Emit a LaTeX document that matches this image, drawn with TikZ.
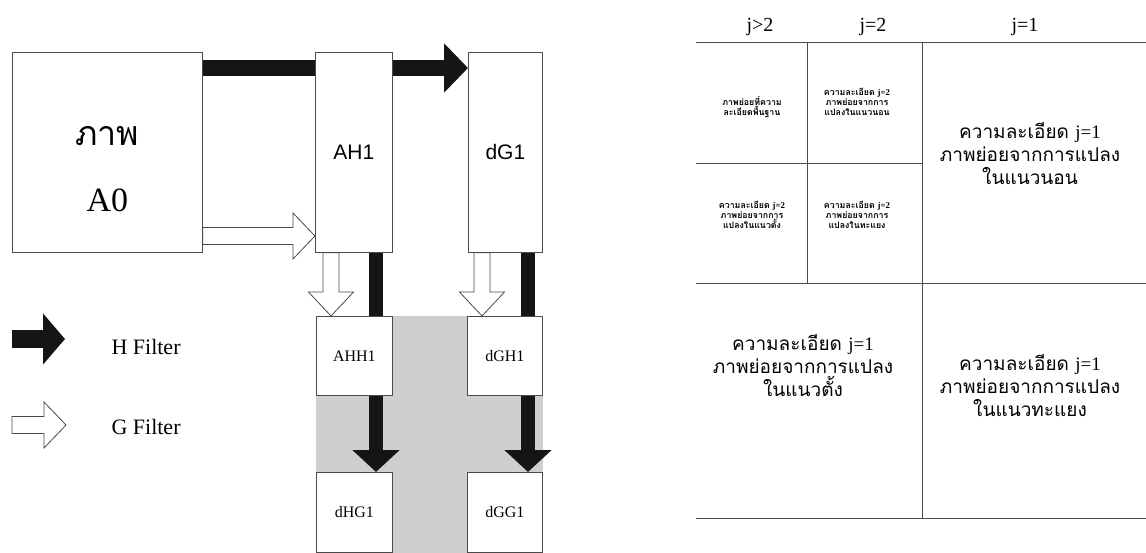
\documentclass[tikz,border=0pt]{standalone}
\usepackage{fontspec}
\setmainfont{Liberation Serif}
\newfontfamily\thai[Script=Thai]{Loma}
\newfontfamily\arial{Liberation Sans}
\usepackage{tikz}
\usetikzlibrary{arrows.meta,backgrounds,calc,positioning}
\definecolor{ink}{HTML}{151515}
\definecolor{edge}{HTML}{4A4A4A}
\tikzset{
  hflow/.style={line width=16pt,draw=ink,-{Triangle[length=24pt,width=48pt]}},
  vflow/.style={line width=14pt,draw=ink,-{Triangle[length=22pt,width=46pt]}},
  gflow/.style={draw=edge,fill=white,line width=.8pt},
  blk/.style={draw=edge,fill=white,line width=.8pt,inner sep=0pt,anchor=north west},
  tabline/.style={draw=edge,line width=.8pt},
  tile/.style={align=center,font=\thai\fontsize{19}{23}\selectfont},
  mini/.style={align=center,font=\thai\bfseries\fontsize{8.8}{10}\selectfont},
  head/.style={font=\fontsize{20}{22}\selectfont}
}
% open (G filter) block arrows
\newcommand{\gright}[2]{\draw[gflow] ($(#1)+(0,-8.5)$) -- ($(#2)+(-22,-8.5)$) -- ($(#2)+(-22,-23)$) -- (#2)
  -- ($(#2)+(-22,23)$) -- ($(#2)+(-22,8.5)$) -- ($(#1)+(0,8.5)$) -- cycle;}
\newcommand{\gdown}[2]{\draw[gflow] ($(#1)+(-8,0)$) -- ($(#2)+(-8,-24)$) -- ($(#2)+(-22.5,-24)$) -- (#2)
  -- ($(#2)+(22.5,-24)$) -- ($(#2)+(8,-24)$) -- ($(#1)+(8,0)$) -- cycle;}
\begin{document}
\begin{tikzpicture}[x=1pt,y=-1pt]
  \useasboundingbox (0,0) rectangle (1146,552);
  % filter boxes
  \node[blk,minimum width=190pt,minimum height=200pt] (a0) at (12,52) {};
  \node[font=\fontsize{34}{66}\selectfont,align=center] (a0txt) at ([yshift=-17pt]a0.center) {{\thai ภาพ}\\A0};
  \node[blk,minimum width=77pt,minimum height=200pt,font=\arial\fontsize{21}{24}\selectfont] (ah1) at (315,52) {AH1};
  \node[blk,minimum width=74pt,minimum height=200pt,font=\arial\fontsize{21}{24}\selectfont] (dg1) at (468,52) {dG1};
  \node[blk,minimum width=76pt,minimum height=79pt,font=\fontsize{16}{18}\selectfont] (ahh1) at (316,316) {AHH1};
  \node[blk,minimum width=75pt,minimum height=79pt,font=\fontsize{16}{18}\selectfont] (dgh1) at (467,316) {dGH1};
  \node[blk,minimum width=76pt,minimum height=80pt,font=\fontsize{16}{18}\selectfont] (dhg1) at (316,472) {dHG1};
  \node[blk,minimum width=75pt,minimum height=80pt,font=\fontsize{16}{18}\selectfont] (dgg1) at (467,472) {dGG1};
  % legend
  \coordinate (hl0) at (12,339); \coordinate (hl1) at (65,339);
  \coordinate (gl0) at (12,425); \coordinate (gl1) at (66,425);
  \draw[hflow,line width=18pt,-{Triangle[length=22pt,width=50pt]}] (hl0) -- (hl1);
  \gright{gl0}{gl1}
  \node[font=\fontsize{22}{24}\selectfont,anchor=west] (hleg) at (108,347) {H Filter};
  \node[font=\fontsize{22}{24}\selectfont,anchor=west] (gleg) at (108,427) {G Filter};
  \begin{scope}[on background layer]
    \fill[gray!38] (ahh1.north west) rectangle (dgg1.south east);
    \shade[left color=gray!38,middle color=gray!66,right color=gray!38] ([xshift=-30pt]ahh1.north east) rectangle ([xshift=30pt]dgg1.south west);
    \draw[hflow] (a0.east |- 0,68) -- (dg1.west |- 0,68);
    \coordinate (g0s) at (a0.east |- 0,236); \coordinate (g0e) at (ah1.west |- 0,236);
    \gright{g0s}{g0e}
    \coordinate (g1s) at (ah1.south -| 331,0); \coordinate (g1e) at (ahh1.north -| 331,0);
    \coordinate (g2s) at (dg1.south -| 482,0); \coordinate (g2e) at (dgh1.north -| 482,0);
    \gdown{g1s}{g1e}
    \gdown{g2s}{g2e}
    \draw[vflow] (ah1.south -| 376,0) -- (dhg1.north -| 376,0);
    \draw[vflow] (dg1.south -| 528,0) -- (dgg1.north -| 528,0);
  \end{scope}
  % subband table
  \draw[tabline] (696,42) -- (1146,42) (696,283) -- (1146,283) (696,518) -- (1146,518)
    (696,163) -- (922,163) (807,42) -- (807,283) (922,42) -- (922,518);
  \node[head] (hj3) at (760,27) {j>2};
  \node[head] (hj2) at (873,27) {j=2};
  \node[head] (hj1) at (1025,27) {j=1};
  \node[mini] (c11) at (752,107) {ภาพย่อยที่ความ\\ละเอียดพื้นฐาน};
  \node[mini] (c12) at (857,102) {ความละเอียด {\rmfamily j=2}\\ภาพย่อยจากการ\\แปลงในแนวนอน};
  \node[mini] (c21) at (752,215) {ความละเอียด {\rmfamily j=2}\\ภาพย่อยจากการ\\แปลงในแนวตั้ง};
  \node[mini] (c22) at (857,215) {ความละเอียด {\rmfamily j=2}\\ภาพย่อยจากการ\\แปลงในทะแยง};
  \node[tile] (c13) at (1030,153) {ความละเอียด {\rmfamily j=1}\\ภาพย่อยจากการแปลง\\ในแนวนอน};
  \node[tile] (c31) at (803,365) {ความละเอียด {\rmfamily j=1}\\ภาพย่อยจากการแปลง\\ในแนวตั้ง};
  \node[tile] (c33) at (1030,385) {ความละเอียด {\rmfamily j=1}\\ภาพย่อยจากการแปลง\\ในแนวทะแยง};
\end{tikzpicture}
\end{document}
